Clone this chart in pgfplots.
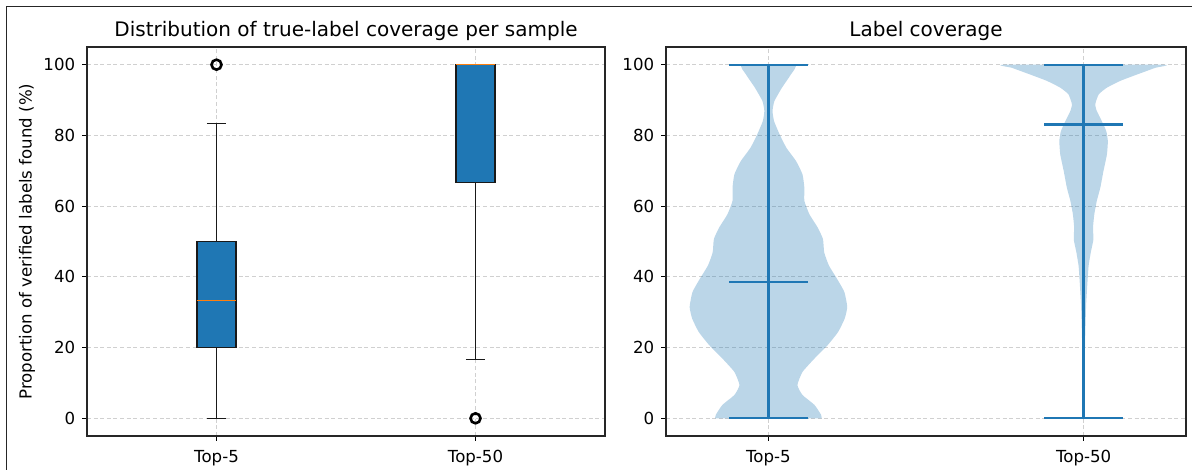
\documentclass[border=0pt]{standalone}
\usepackage{fontspec}
\setmainfont{DejaVu Sans}
\usepackage{pgfplots}
\pgfplotsset{compat=1.18}
\usepgfplotslibrary{statistics}
\definecolor{mplblue}{HTML}{1F77B4}
\definecolor{mplorange}{HTML}{FF7F0E}
\definecolor{gridgray}{HTML}{D0D0D0}

\pgfplotsset{
 common/.style={
  scale only axis,
  anchor=south west,
  height=194.5pt,
  ymin=-5, ymax=105,
  ytick={0,20,40,60,80,100},
  xtick={1,2}, xticklabels={Top-5,Top-50},
  grid=major,
  major grid style={gridgray, dash pattern=on 2pt off 1.3pt, line width=0.4pt},
  tick align=outside,
  tick pos=left,
  major tick length=2.4pt,
  tick style={black, line width=0.45pt},
  axis line style={line width=0.55pt, black!85},
  ticklabel style={font=\fontsize{8.3}{9.5}\selectfont},
  xticklabel style={yshift=-1.2pt},
  /pgf/number format/assume math mode=true,
  title style={font=\fontsize{10}{12}\selectfont, at={(0.5,1)}, anchor=base, yshift=-0.6pt},
  label style={font=\fontsize{8.3}{9.5}\selectfont},
 }
}

\begin{document}
\begin{tikzpicture}
\path[use as bounding box] (0,0) rectangle (596pt,235pt);
\draw[line width=0.5pt, black!85] (3pt,0) -- (3pt,231.5pt) -- (596pt,231.5pt);

% ---------- Left: boxplot ----------
\begin{axis}[common,
  at={(43.5pt,17pt)}, width=259pt,
  xmin=0.5, xmax=2.5,
  title={Distribution of true-label coverage per sample},
  ylabel={Proportion of verified labels found (\%)},
  ylabel style={at={([xshift=-30pt]axis description cs:0,0.5)}, anchor=center},
  boxplot/draw direction=y,
]
\addplot[black!90, line width=0.7pt, mark=o, mark size=2.5pt,
  mark options={line width=1.3pt, solid, fill=none, draw=black},
  boxplot prepared={draw position=1, lower whisker=0, lower quartile=20,
    median=33.3, upper quartile=50, upper whisker=83.3,
    draw direction=y, box extend=0.15, whisker extend=0.075},
  boxplot/every box/.style={fill=mplblue, draw=black!90},
  boxplot/every median/.style={draw=mplorange, line width=0.6pt},
] coordinates {(1,100)};
\addplot[black!90, line width=0.7pt, mark=o, mark size=2.5pt,
  mark options={line width=1.3pt, solid, fill=none, draw=black},
  boxplot prepared={draw position=2, lower whisker=16.7, lower quartile=66.7,
    median=100, upper quartile=100, upper whisker=100,
    draw direction=y, box extend=0.15, whisker extend=0.075},
  boxplot/every box/.style={fill=mplblue, draw=black!90},
  boxplot/every median/.style={draw=mplorange, line width=0.6pt},
] coordinates {(2,0)};
\addplot[mplorange, line width=0.6pt] coordinates {(1.925,100) (2.075,100)};
\end{axis}

% ---------- Right: violin ----------
\begin{axis}[common,
  at={(333pt,17pt)}, width=260pt,
  xmin=0.675, xmax=2.325,
  title={Label coverage},
]
% Top-5 violin body
\addplot[draw=none, fill=mplblue, fill opacity=0.3, smooth, tension=0.3] coordinates {
 (1.169,0) (1.167,1) (1.146,3.8) (1.108,6.6) (1.092,9.4) (1.108,13.1) (1.146,16.9)
 (1.188,20.7) (1.221,24.4) (1.242,28.2) (1.250,31.5) (1.241,35.7) (1.218,39.4)
 (1.192,43.2) (1.177,46.9) (1.173,50.7) (1.156,54) (1.130,57.7) (1.114,61.5)
 (1.114,65.2) (1.108,69) (1.088,72.7) (1.057,76.5) (1.036,80.2) (1.018,84)
 (1.013,86.9) (1.019,89.7) (1.043,93.5) (1.071,97.2) (1.083,100)
 (0.917,100) (0.929,97.2) (0.957,93.5) (0.981,89.7) (0.987,86.9) (0.982,84)
 (0.964,80.2) (0.943,76.5) (0.912,72.7) (0.892,69) (0.886,65.2) (0.886,61.5)
 (0.870,57.7) (0.844,54) (0.827,50.7) (0.823,46.9) (0.808,43.2) (0.782,39.4)
 (0.759,35.7) (0.750,31.5) (0.758,28.2) (0.779,24.4) (0.812,20.7) (0.854,16.9)
 (0.892,13.1) (0.908,9.4) (0.892,6.6) (0.854,3.8) (0.833,1) (0.831,0)
};
% Top-50 violin body
\addplot[draw=none, fill=mplblue, fill opacity=0.3, smooth, tension=0.3] coordinates {
 (2.003,0) (2.003,13) (2.005,22.5) (2.008,32) (2.013,39.5) (2.016,43.2) (2.023,47)
 (2.031,50.5) (2.030,54) (2.034,57.7) (2.042,61.5) (2.053,65.2) (2.063,69.9)
 (2.074,74.6) (2.077,78.4) (2.072,81.2) (2.058,84) (2.042,86.9) (2.037,88.8)
 (2.048,91.6) (2.074,93.5) (2.116,95.4) (2.169,97.2) (2.227,99.1) (2.250,100)
 (1.750,100) (1.773,99.1) (1.831,97.2) (1.884,95.4) (1.926,93.5) (1.952,91.6)
 (1.963,88.8) (1.958,86.9) (1.942,84) (1.928,81.2) (1.923,78.4) (1.926,74.6)
 (1.937,69.9) (1.947,65.2) (1.958,61.5) (1.966,57.7) (1.970,54) (1.969,50.5)
 (1.977,47) (1.984,43.2) (1.987,39.5) (1.992,32) (1.995,22.5) (1.997,13) (1.997,0)
};
% bars, extrema and means
\addplot[mplblue, line width=1.1pt] coordinates {(1,0) (1,100)};
\addplot[mplblue, line width=1.1pt] coordinates {(0.875,0) (1.125,0)};
\addplot[mplblue, line width=1.1pt] coordinates {(0.875,100) (1.125,100)};
\addplot[mplblue, line width=1.1pt] coordinates {(0.875,38.6) (1.125,38.6)};
\addplot[mplblue, line width=1.1pt] coordinates {(2,0) (2,100)};
\addplot[mplblue, line width=1.1pt] coordinates {(1.875,0) (2.125,0)};
\addplot[mplblue, line width=1.1pt] coordinates {(1.875,100) (2.125,100)};
\addplot[mplblue, line width=1.1pt] coordinates {(1.875,83.1) (2.125,83.1)};
\end{axis}
\end{tikzpicture}
\end{document}
